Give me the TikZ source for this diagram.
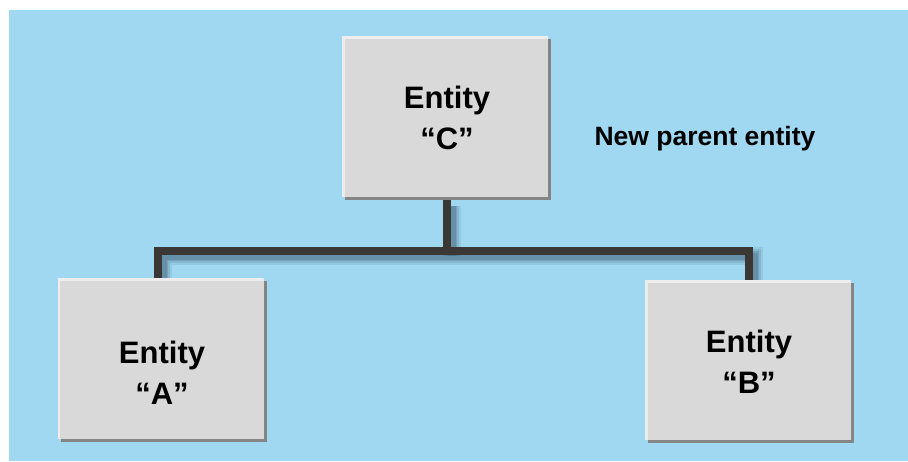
\documentclass[tikz,border=0pt]{standalone}
\usepackage{fontspec}
\setmainfont{Liberation Sans}
\usetikzlibrary{calc}

\definecolor{skyback}{HTML}{A0D8F2}
\definecolor{boxfill}{HTML}{D9D9D9}
\definecolor{boxlight}{HTML}{EDEDED}
\definecolor{boxshadow}{HTML}{858585}
\definecolor{connector}{HTML}{3A3735}
\definecolor{connshadow}{HTML}{3E5F75}

\tikzset{
  x=1pt, y=-1pt,
  entitybox/.style={
    rectangle, inner sep=0pt, minimum width=206pt, minimum height=161pt,
    fill=boxfill,
    preaction={fill=boxshadow, transform canvas={shift={(3pt,-3pt)}}},
    path picture={
      \fill[boxlight] (path picture bounding box.north west) rectangle
        ([xshift=2.5pt]path picture bounding box.south west);
      \fill[boxlight] (path picture bounding box.north west) rectangle
        ([yshift=-2.5pt]path picture bounding box.north east);
    }
  },
  entitytext/.style={align=center, text=black,
    font=\bfseries\fontsize{31}{41}\selectfont},
  notetext/.style={text=black, font=\bfseries\fontsize{26.5}{32}\selectfont},
  link/.style={draw=connector, line width=8pt, line join=miter, line cap=rect},
  linkshadow/.style={draw=connshadow, line join=miter,
    transform canvas={shift={(5pt,-5pt)}}},
}

\begin{document}
\begin{tikzpicture}
  % page and light blue backdrop
  \useasboundingbox (0,0) rectangle (908,461);
  \fill[white] (0,0) rectangle (908,461);
  \fill[skyback] (9,10) rectangle (908,461);

  % junction points of the tree connector
  \coordinate (top) at (447,201);
  \coordinate (mid) at (447,251);
  \coordinate (left) at (158,251);
  \coordinate (right) at (749,251);
  \coordinate (leftend) at (158,279);
  \coordinate (rightend) at (749,281);

  % soft shadow under the connector
  \foreach \w/\o in {18/0.12, 14/0.16, 10/0.22, 7/0.28} {
    \path[linkshadow, line width=\w pt, opacity=\o]
      (leftend) -- (left) -- (right) -- (rightend);
    \path[linkshadow, line width=\w pt, opacity=\o] (top) -- (mid);
  }

  % connector
  \path[link] (leftend) -- (left) -- (right) -- (rightend);
  \path[link] (top) -- (mid);

  % entity boxes
  \node[entitybox] (C) at (445,116.5) {};
  \node[entitybox] (A) at (160.5,358.5) {};
  \node[entitybox, minimum height=160pt] (B) at (748,360) {};

  % box captions
  \node[entitytext] (Ct) at (447,117.5) {Entity\\“C”};
  \node[entitytext] (At) at (162,372.5) {Entity\\“A”};
  \node[entitytext] (Bt) at (749,361.5) {Entity\\“B”};

  \node[notetext] (note) at (705,139) {New parent entity};
\end{tikzpicture}
\end{document}
